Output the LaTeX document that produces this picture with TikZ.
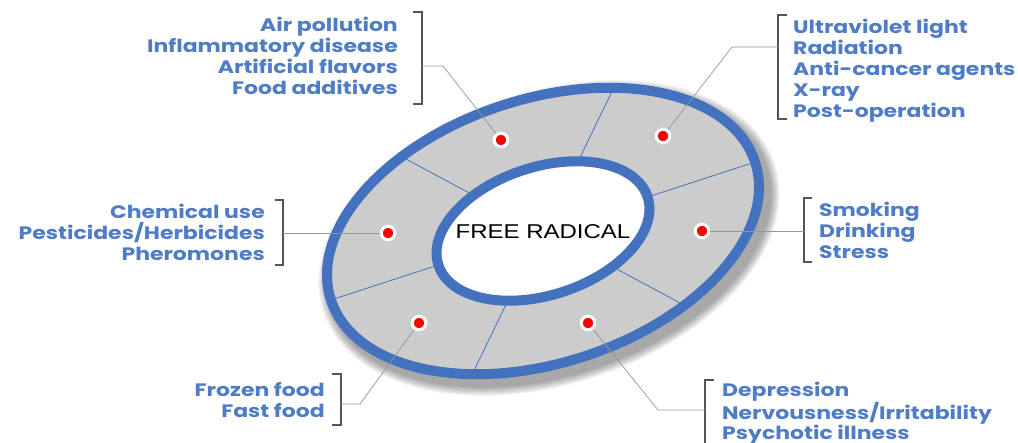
\documentclass[tikz,border=0pt]{standalone}
\usepackage{fontspec}
\setmainfont{Poppins}[FakeStretch=1.22]
\newfontfamily\hubfont{Liberation Sans}[FakeStretch=1.2]
\definecolor{ringblue}{RGB}{68,114,190}
\definecolor{ringgray}{RGB}{204,204,204}
\definecolor{labelblue}{RGB}{78,124,198}
\definecolor{leadgray}{RGB}{150,150,150}
\definecolor{brackgray}{RGB}{85,85,85}
\tikzset{
  ring/.style={draw=ringblue,line width=10pt},
  divider/.style={draw=ringblue,line width=0.8pt},
  dot/.style={circle,fill=red,draw=white,line width=3pt,inner sep=0pt,minimum size=13.5pt},
  leader/.style={draw=leadgray,line width=0.7pt},
  brack/.style={draw=brackgray,line width=1.8pt},
  lbl/.style={text=labelblue,font=\bfseries\fontsize{18}{21}\selectfont,inner sep=0pt},
}
\begin{document}
\begin{tikzpicture}[x=1pt,y=-1pt]
    \useasboundingbox (0,0) rectangle (1018,443);

    % soft shadow of the disc
    \begin{scope}[shift={(549,238)},rotate=18]
        \foreach \i in {1,...,8}
            \draw[black,opacity=0.05,line width={10+2.4*\i}] (0,0) ellipse [x radius=223,y radius=132];
    \end{scope}

    % the disc
    \begin{scope}[shift={(543,231)},rotate=18]
        \fill[ringgray,even odd rule] (0,0) ellipse [x radius=223,y radius=132]
                                      (0,0) ellipse [x radius=110,y radius=64];
        \foreach \t in {0,60,...,300}
            \draw[divider] ({110*cos(\t)},{64*sin(\t)}) -- ({223*cos(\t)},{132*sin(\t)});
        \draw[ring] (0,0) ellipse [x radius=223,y radius=132];
        \draw[ring] (0,0) ellipse [x radius=110,y radius=64];
    \end{scope}

    \node[font=\hubfont\fontsize{20}{24}\selectfont] (hub) at (543,232) {FREE RADICAL};

    % red points on the disc
    \node[dot] (dTL) at (501,140) {};
    \node[dot] (dTR) at (663,136) {};
    \node[dot] (dL)  at (388,233) {};
    \node[dot] (dR)  at (702,231) {};
    \node[dot] (dBL) at (419,323) {};
    \node[dot] (dBR) at (588,323) {};

    % label groups
    \node[lbl,anchor=north east,align=right] (tTL) at (398,16.5)
        {Air pollution\\Inflammatory disease\\Artificial flavors\\Food additives};
    \node[lbl,anchor=north west,align=left] (tTR) at (793,19)
        {Ultraviolet light\\Radiation\\Anti-cancer agents\\X-ray\\Post-operation};
    \node[lbl,anchor=north east,align=right] (tL) at (265,203.5)
        {Chemical use\\Pesticides/Herbicides\\Pheromones};
    \node[lbl,anchor=north west,align=left] (tR) at (819,202)
        {Smoking\\Drinking\\Stress};
    \node[lbl,anchor=north east,align=right] (tBL) at (325,382)
        {Frozen food\\Fast food};
    \node[lbl,anchor=north west,align=left,font=\bfseries\fontsize{18}{20}\selectfont] (tBR) at (722,382)
        {Depression\\Nervousness/Irritability\\Psychotic illness};

    % brackets
    \draw[brack] (413,12) -- (422,12) -- (422,104) -- (413,104);
    \draw[brack] (787,15) -- (778,15) -- (778,119) -- (787,119);
    \draw[brack] (275,200) -- (283,200) -- (283,265) -- (275,265);
    \draw[brack] (812,198) -- (804,198) -- (804,262) -- (812,262);
    \draw[brack] (332,374) -- (341,374) -- (341,425) -- (332,425);
    \draw[brack] (714,380) -- (705,380) -- (705,446);

    \coordinate (bTL) at (422,66);
    \coordinate (bTR) at (778,47);
    \coordinate (bL)  at (283,233);
    \coordinate (bR)  at (804,231);
    \coordinate (bBL) at (341,404);
    \coordinate (bBR) at (705,410);
    \coordinate (kTL) at (443,66);
    \coordinate (kTR) at (732,47);
    \coordinate (kBL) at (360,404);
    \coordinate (kBR) at (658,410);

    % leaders
    \draw[leader] (dTL) -- (kTL) -- (bTL);
    \draw[leader] (dTR) -- (kTR) -- (bTR);
    \draw[leader] (dL) -- (bL);
    \draw[leader] (dR) -- (bR);
    \draw[leader] (dBL) -- (kBL) -- (bBL);
    \draw[leader] (dBR) -- (kBR) -- (bBR);
\end{tikzpicture}
\end{document}
